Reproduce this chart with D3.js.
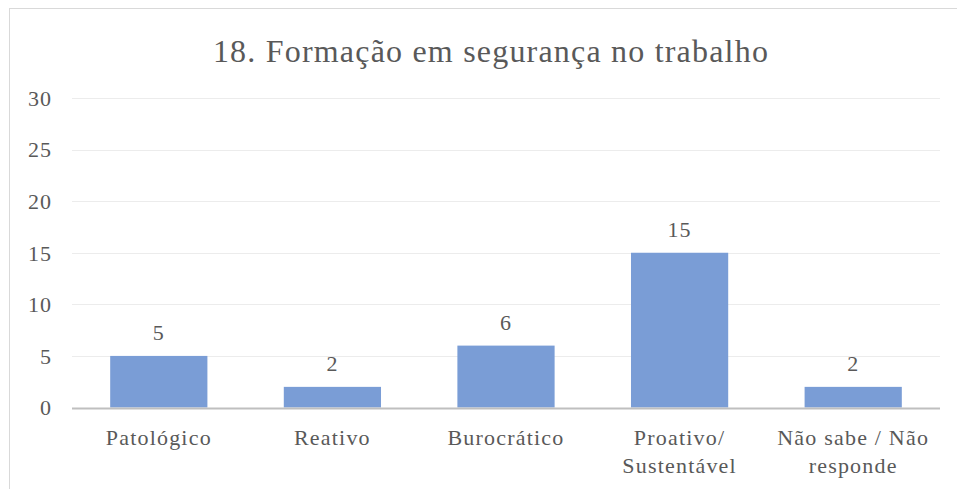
<!DOCTYPE html>
<html>
<head>
<meta charset="utf-8">
<script src="https://cdn.jsdelivr.net/npm/d3@7"></script>
</head>
<body style="margin:0">
<svg id="plot" width="957" height="489"></svg>
<script>
const categories = ["Patológico", "Reativo", "Burocrático", "Proativo/\nSustentável", "Não sabe / Não\nresponde"];
const values = [5, 2, 6, 15, 2];
const yTicks = [0, 5, 10, 15, 20, 25, 30];
const title = "18. Formação em segurança no trabalho";

const width = 957, height = 489;
const margin = { top: 98, right: 17, bottom: 82, left: 72 };
const serif = "Liberation Serif";
const textColor = "#595959";

const svg = d3.select("#plot");

function styleText(sel, size, spacing) {
  sel.style("font-family", serif, "important")
    .attr("font-size", size)
    .style("letter-spacing", spacing + "px")
    .attr("fill", textColor);
}

// chart frame
svg.append("rect")
  .attr("x", 9.5).attr("y", 8.5)
  .attr("width", 980).attr("height", 500)
  .attr("fill", "none")
  .attr("stroke", "#d9d9d9");

const x = d3.scaleBand()
  .domain(categories)
  .range([margin.left, width - margin.right])
  .paddingInner(0.44)
  .paddingOuter(0.22);

const y = d3.scaleLinear()
  .domain([0, 30])
  .range([height - margin.bottom + 0.5, margin.top]);

// gridlines
svg.append("g")
  .selectAll("line")
  .data(yTicks.slice(1))
  .enter()
  .append("line")
  .attr("x1", margin.left)
  .attr("x2", width - margin.right)
  .attr("y1", d => Math.round(y(d)) + 0.5)
  .attr("y2", d => Math.round(y(d)) + 0.5)
  .attr("stroke", "#ececec");

// y axis labels
const yAxis = d3.axisLeft(y).tickValues(yTicks).tickSize(0).tickPadding(20);
const gy = svg.append("g")
  .attr("transform", `translate(${margin.left},0)`)
  .call(yAxis);
gy.attr("font-family", serif);
gy.select(".domain").remove();
gy.selectAll("text")
  .call(styleText, 22, 1)
  .attr("dy", "0.33em");

// bars
svg.append("g")
  .selectAll("rect")
  .data(values)
  .enter()
  .append("rect")
  .attr("x", (d, i) => x(categories[i]))
  .attr("width", x.bandwidth())
  .attr("y", d => y(d))
  .attr("height", d => y(0) - y(d))
  .attr("fill", "#7a9dd6");

// value labels
svg.append("g")
  .selectAll("text")
  .data(values)
  .enter()
  .append("text")
  .attr("x", (d, i) => x(categories[i]) + x.bandwidth() / 2)
  .attr("y", d => y(d) - 16)
  .attr("text-anchor", "middle")
  .call(styleText, 22, 1)
  .text(d => d);

// x axis line
svg.append("line")
  .attr("x1", margin.left)
  .attr("x2", width - margin.right)
  .attr("y1", y(0) + 1)
  .attr("y2", y(0) + 1)
  .attr("stroke", "#bfbfbf")
  .attr("stroke-width", 2);

// category labels
const xl = svg.append("g")
  .selectAll("text")
  .data(categories)
  .enter()
  .append("text")
  .attr("text-anchor", "middle")
  .call(styleText, 22, 1.2)
  .attr("x", d => x(d) + x.bandwidth() / 2)
  .attr("y", 445);

xl.selectAll("tspan")
  .data(d => d.split("\n"))
  .enter()
  .append("tspan")
  .attr("x", function () { return d3.select(this.parentNode).attr("x"); })
  .attr("dy", (d, i) => i === 0 ? 0 : 28)
  .text(d => d);

// title
svg.append("text")
  .attr("x", 491)
  .attr("y", 62)
  .attr("text-anchor", "middle")
  .call(styleText, 32, 1.2)
  .text(title);
</script>
</body>
</html>
